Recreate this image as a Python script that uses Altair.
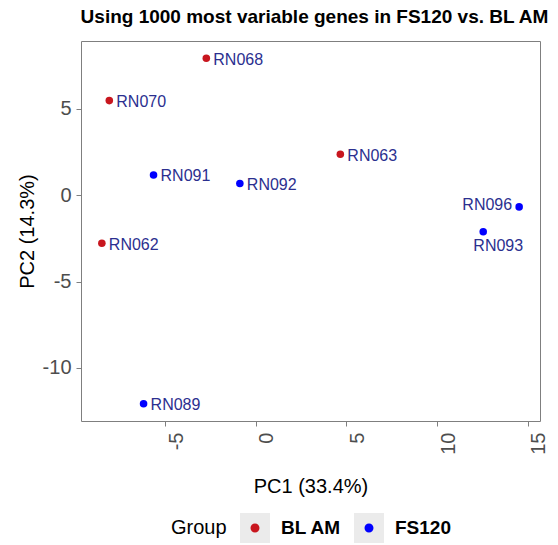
import altair as alt
import pandas as pd

# PCA scores for each sample (first two components)
samples = ["RN062", "RN063", "RN068", "RN070", "RN089", "RN091", "RN092", "RN093", "RN096"]
groups = ["BL AM", "BL AM", "BL AM", "BL AM", "FS120", "FS120", "FS120", "FS120", "FS120"]
pc1 = [-8.49, 4.66, -2.73, -8.08, -6.19, -5.64, -0.88, 12.54, 14.52]
pc2 = [-2.78, 2.37, 7.92, 5.47, -12.07, 1.17, 0.67, -2.12, -0.68]

group_names = ["BL AM", "FS120"]
group_colors = ["#C8161E", "#0000FF"]
x_ticks = [-5, 0, 5, 10, 15]
y_ticks = [-10, -5, 0, 5]

df = pd.DataFrame({"sample": samples, "Group": groups, "PC1": pc1, "PC2": pc2})

FONT = "Liberation Sans"
LABEL_BLUE = "#2B2F8F"
KEY_GREY = "#EBEBEB"

# Key symbol: a small dot inside the full [-1, 1] symbol frame (the two
# zero-length segments at the corners keep its bounds equal to a square's).
DOT_IN_FRAME = (
    "M-1,-1L-1,-1M1,1L1,1"
    "M0.3,0A0.3,0.3,0,1,1,-0.3,0A0.3,0.3,0,1,1,0.3,0Z"
)


def expanded(vals, frac=0.05):
    """Data range widened by a fixed fraction on both sides."""
    lo, hi = min(vals), max(vals)
    pad = (hi - lo) * frac
    return [lo - pad, hi + pad]


def key_legend(**extra):
    """Shared layout for the two stacked "Group" keys (grey boxes, dots)."""
    return alt.Legend(
        orient="none",
        legendX=90,
        legendY=472,
        direction="horizontal",
        title="Group",
        titleOrient="left",
        titleAnchor="middle",
        titleBaseline="middle",
        titleFont=FONT,
        titleFontSize=20,
        titleFontWeight="normal",
        titleColor="#000000",
        titlePadding=13,
        labelFont=FONT,
        labelFontSize=19,
        labelFontWeight="bold",
        labelColor="#000000",
        labelOffset=11,
        symbolSize=900,
        symbolStrokeWidth=0,
        symbolOpacity=1,
        columnPadding=12,
        padding=0,
        **extra,
    )


x_enc = alt.X(
    "PC1:Q",
    scale=alt.Scale(domain=expanded(pc1), nice=False, zero=False),
    axis=alt.Axis(
        title="PC1 (33.4%)",
        values=x_ticks,
        grid=False,
        labelAngle=270,
        labelAlign="right",
        labelBaseline="top",
        labelPadding=6,
        labelOffset=1,
        labelExpr="'' + datum.value",
        titleY=71,
        titleBaseline="alphabetic",
    ),
)
y_enc = alt.Y(
    "PC2:Q",
    scale=alt.Scale(domain=expanded(pc2), nice=False, zero=False),
    axis=alt.Axis(
        title="PC2 (14.3%)",
        values=y_ticks,
        grid=False,
        labelPadding=5,
        labelExpr="'' + datum.value",
        titleX=-48,
        titleBaseline="alphabetic",
    ),
)

# Sample points; their colour key draws only the dots, on top of the grey boxes
points = alt.Chart(df).mark_point(filled=True, size=57, opacity=1).encode(
    x=x_enc,
    y=y_enc,
    color=alt.Color(
        "Group:N",
        scale=alt.Scale(domain=group_names, range=group_colors),
        legend=key_legend(symbolType=DOT_IN_FRAME, labelOpacity=0, titleOpacity=0, zindex=2),
    ),
)

# Invisible copy of the points that carries the grey key boxes and key text;
# its shape scale takes its (sorted) domain from the data.
group_key = alt.Chart(df).mark_point(filled=True, size=57, opacity=0, color=KEY_GREY).encode(
    x="PC1:Q",
    y="PC2:Q",
    shape=alt.Shape(
        "Group:N",
        scale=alt.Scale(range=["square", "square"]),
        legend=key_legend(zindex=1),
    ),
)

text_base = alt.Chart(df).encode(x="PC1:Q", y="PC2:Q", text="sample:N")

labels_right = text_base.mark_text(
    font=FONT, fontSize=16, color=LABEL_BLUE, align="left", baseline="middle", dx=7, dy=1.5
).transform_filter("indexof(['RN096', 'RN093'], datum.sample) < 0")

label_left = text_base.mark_text(
    font=FONT, fontSize=16, color=LABEL_BLUE, align="right", baseline="middle", dx=-7, dy=-1.5
).transform_filter("datum.sample === 'RN096'")

label_below = text_base.mark_text(
    font=FONT, fontSize=16, color=LABEL_BLUE, align="center", baseline="middle", dx=15, dy=14
).transform_filter("datum.sample === 'RN093'")

chart = (
    alt.layer(group_key, points, labels_right, label_left, label_below)
    .properties(
        width=459,
        height=380,
        autosize=alt.AutoSizeParams(type="none"),
        padding={"left": 81, "top": 41, "right": 18, "bottom": 124},
        title=alt.Title(
            "Using 1000 most variable genes in FS120 vs. BL AM",
            font=FONT,
            fontSize=19,
            fontWeight="bold",
            color="#000000",
            anchor="middle",
            frame="group",
            baseline="alphabetic",
            offset=18,
            dx=4,
            dy=19,
        ),
    )
    .configure(background="white")
    .configure_view(stroke="#7F7F7F", strokeWidth=1)
    .configure_axis(
        domain=False,
        tickColor="#7F7F7F",
        tickSize=5,
        tickWidth=1,
        labelFont=FONT,
        labelFontSize=20,
        labelColor="#4D4D4D",
        labelOverlap=False,
        titleFont=FONT,
        titleFontSize=20,
        titleFontWeight="normal",
        titleColor="#000000",
    )
)

chart.save("out.html", embed_options={"renderer": "svg", "actions": False})
